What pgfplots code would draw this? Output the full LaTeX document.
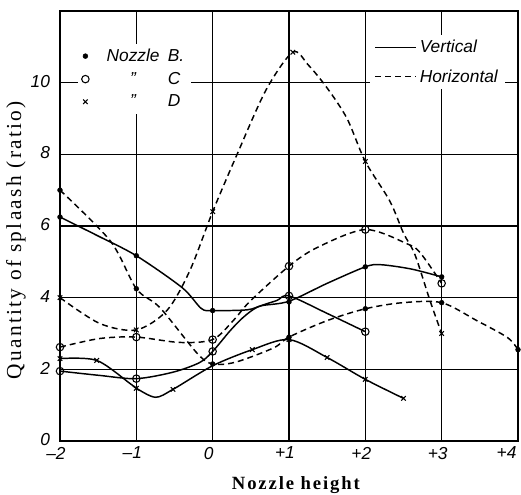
\documentclass[border=0pt]{standalone}
\usepackage{fontspec}
\setmainfont{Liberation Serif}
\setsansfont{Liberation Sans}
\newfontfamily\labelfont[LetterSpace=11]{Liberation Serif}
\newfontfamily\xlabelfont[LetterSpace=10]{Liberation Serif}
\usepackage{pgfplots}
\pgfplotsset{compat=1.18}
\tikzset{
  hdash/.style={dash pattern=on 4.5pt off 3pt},
}
\begin{document}
\begin{tikzpicture}
\useasboundingbox (-45pt,-40.5pt) rectangle (345.75pt,330.75pt);
\begin{axis}[
  at={(0,0)}, anchor=south west,
  scale only axis, width=343.5pt, height=322.5pt,
  xmin=-2, xmax=4, ymin=0, ymax=12,
  xtick={-2,-1,0,1,2,3,4},
  xticklabels={\textendash2,\textendash1,0,+1,+2,+3,\makebox[0pt][l]{\kern-13pt+4}},
  ytick={0,2,4,6,8,10},
  grid=major,
  major grid style={black, line width=1.2pt},
  axis line style={black, line width=1.7pt},
  major tick length=0pt,
  /pgf/number format/assume math mode=true,
  tick label style={font=\sffamily\itshape\fontsize{13}{13}\selectfont},
  xticklabel style={xshift=-3pt, yshift=-1pt, inner xsep=0pt},
  yticklabel style={xshift=-4pt, yshift=1pt},
  ylabel={Quantity of splaash (ratio)},
  ylabel style={at={(axis description cs:-0.096,0.467)}, anchor=center, font=\labelfont\fontsize{16}{16}\selectfont},
  xlabel={\textbf{Nozzle height}},
  xlabel style={at={(axis description cs:0.517,-0.102)}, anchor=center, font=\xlabelfont\fontsize{14}{14}\selectfont},
  legend style={at={(axis description cs:0.038,0.925)}, anchor=north west, draw=none, fill=white,
    font=\sffamily\itshape\fontsize{13}{13}\selectfont, row sep=2.5pt},
  legend cell align=left,
]
% legend images (markers)
\addlegendimage{only marks, mark=*, mark size=1.8pt, black}
\addlegendentry{\hspace{11pt}\makebox[40pt][c]{Nozzle}\hspace{6pt}B.}
\addlegendimage{only marks, mark=o, mark size=2.8pt, black, thick}
\addlegendentry{\hspace{11pt}\makebox[40pt][c]{''}\hspace{6pt}C}
\addlegendimage{only marks, mark=x, mark size=2.4pt, black, thick}
\addlegendentry{\hspace{11pt}\makebox[40pt][c]{''}\hspace{6pt}D}

% ---- Nozzle B, vertical (solid)
\addplot[forget plot, black, line width=1.1pt, smooth, tension=0.5] coordinates {
 (-2,6.25) (-1.5,5.72) (-1,5.17) (-0.4,4.28) (-0.15,3.7) (0,3.64) (0.45,3.66) (0.65,3.78) (1,3.9) (1.5,4.4) (2,4.86) (2.2,4.92) (2.6,4.8) (3,4.58)};
\addplot[forget plot, only marks, mark=*, mark size=1.8pt, black] coordinates {
 (-2,6.25) (-1,5.17) (0,3.64) (1,3.88) (2,4.86) (3,4.58)};
% ---- Nozzle B, horizontal (dashed)
\addplot[forget plot, black, line width=1.1pt, hdash, smooth, tension=0.5] coordinates {
 (-2,7.0) (-1.34,5.58) (-1,4.25) (-0.69,3.72) (-0.2,2.44) (0,2.15) (0.3,2.2) (0.8,2.6) (1,2.9) (1.5,3.36) (2,3.69) (2.49,3.86) (3,3.86) (3.46,3.36) (3.86,2.89) (4,2.55)};
\addplot[forget plot, only marks, mark=*, mark size=1.8pt, black] coordinates {
 (-2,7.0) (-1,4.25) (0,2.15) (1,2.9) (2,3.69) (3,3.86) (4,2.55)};
% ---- Nozzle C, vertical (solid)
\addplot[forget plot, black, line width=1.1pt, smooth, tension=0.5] coordinates {
 (-2,1.95) (-1.48,1.83) (-1,1.74) (-0.52,1.92) (-0.17,2.19) (0,2.5) (0.23,3.08) (0.4,3.45) (0.58,3.73) (0.84,3.92) (1,4.05) (1.5,3.56) (2,3.05)};
\addplot[forget plot, only marks, mark=o, mark size=2.8pt, black, thick, fill=white] coordinates {
 (-2,1.95) (-1,1.74) (0,2.5) (1,4.05) (2,3.05)};
% ---- Nozzle C, horizontal (dashed)
\addplot[forget plot, black, line width=1.1pt, hdash, smooth, tension=0.5] coordinates {
 (-2,2.62) (-1.48,2.86) (-1,2.9) (-0.43,2.75) (0,2.83) (0.27,3.36) (0.49,3.9) (1,4.88) (1.37,5.4) (2,5.9) (2.55,5.5) (2.72,5.25) (3,4.4)};
\addplot[forget plot, only marks, mark=o, mark size=2.8pt, black, thick, fill=white] coordinates {
 (-2,2.62) (-1,2.9) (0,2.83) (1,4.88) (2,5.9) (3,4.4)};
% ---- Nozzle D, vertical (solid)
\addplot[forget plot, black, line width=1.1pt, smooth, tension=0.5] coordinates {
 (-2,2.3) (-1.52,2.25) (-1.08,1.6) (-1,1.47) (-0.75,1.22) (-0.52,1.44) (0,2.1) (0.52,2.55) (1,2.83) (1.5,2.33) (2,1.72) (2.5,1.19)};
\addplot[forget plot, only marks, mark=x, mark size=2.4pt, black, thick] coordinates {
 (-2,2.3) (-1.52,2.25) (-1,1.47) (-0.52,1.44) (0.52,2.55) (1,2.83) (1.5,2.33) (2,1.72) (2.5,1.19)};
% ---- Nozzle D, horizontal (dashed)
\addplot[forget plot, black, line width=1.1pt, hdash, smooth, tension=0.5] coordinates {
 (-2,4.0) (-1.48,3.28) (-1,3.1) (-0.6,3.64) (-0.3,4.75) (0,6.4) (0.32,8.0) (0.7,9.8) (1.05,10.85) (1.25,10.5) (1.5,9.85) (1.76,9.0) (2,7.8) (2.32,6.7) (2.5,5.8) (2.65,5.2) (2.85,3.9) (3,3.0)};
\addplot[forget plot, only marks, mark=x, mark size=2.4pt, black, thick] coordinates {
 (-2,4.0) (-1,3.1) (0,6.4) (1.05,10.85) (2,7.8) (3,3.0)};
\end{axis}
\begin{axis}[
  at={(0,0)}, anchor=south west,
  scale only axis, width=343.5pt, height=322.5pt,
  xmin=-2, xmax=4, ymin=0, ymax=12,
  hide axis,
  legend style={at={(axis description cs:0.677,0.945)}, anchor=north west, draw=none, fill=white,
    font=\sffamily\itshape\fontsize{13}{13}\selectfont, row sep=7pt},
  legend cell align=left,
  legend image code/.code={\draw[#1] (0pt,0pt) -- (31pt,0pt);},
]
\addlegendimage{black, line width=1.1pt}
\addlegendentry{Vertical}
\addlegendimage{black, line width=1.1pt, hdash}
\addlegendentry{Horizontal}
\end{axis}
\end{tikzpicture}
\end{document}
